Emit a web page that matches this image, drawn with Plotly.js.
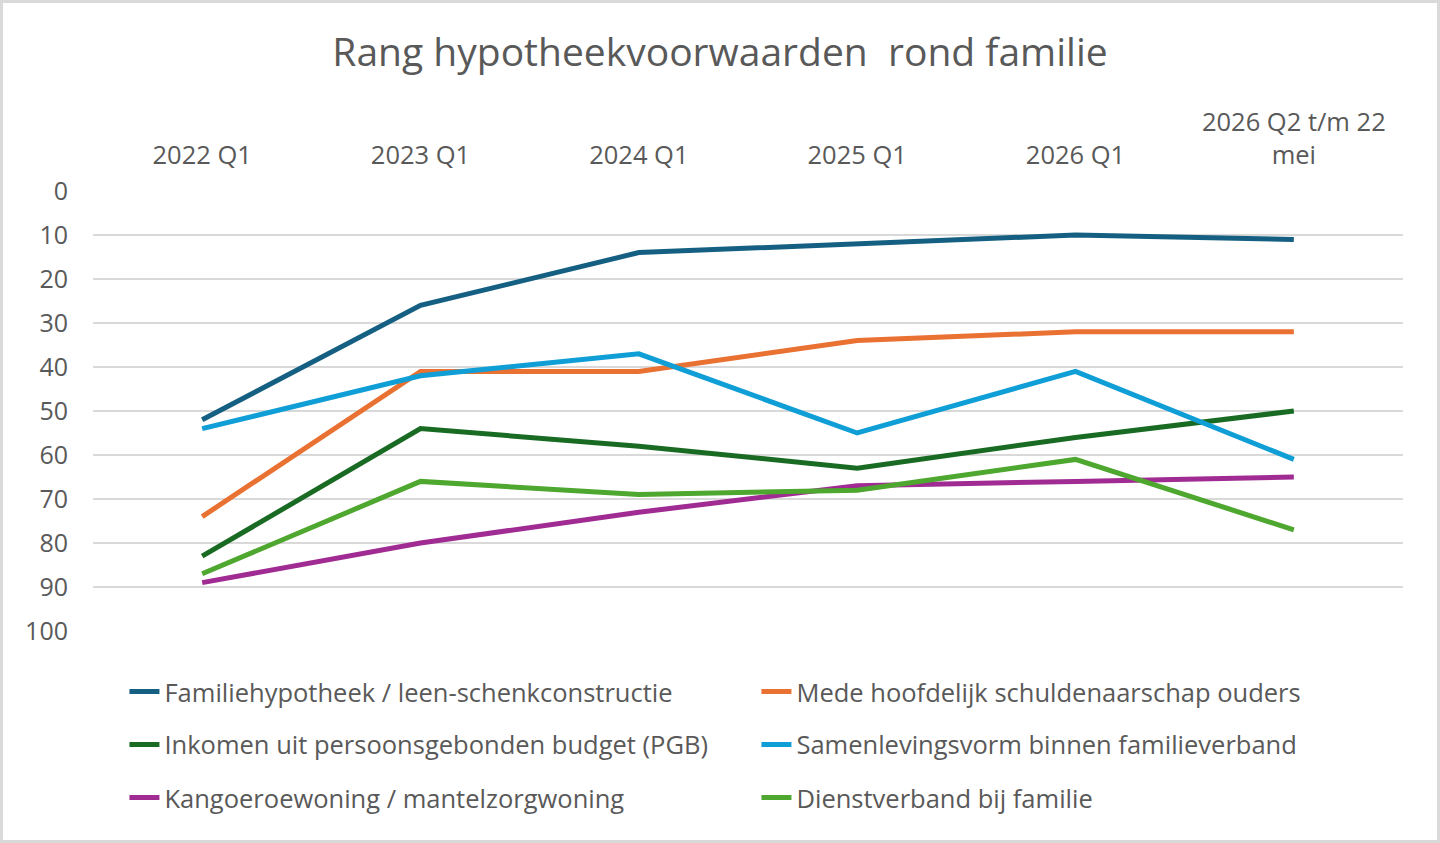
<!DOCTYPE html>
<html>
<head>
<meta charset="utf-8">
<script src="https://cdn.plot.ly/plotly-3.0.1.min.js"></script>
<style>
  html, body { margin: 0; padding: 0; background: #ffffff; }
  #wrap { position: relative; width: 1440px; height: 843px; }
  #chart { width: 1440px; height: 843px; }
  #frame { position: absolute; left: 0; top: 0; width: 1440px; height: 843px; box-sizing: border-box; border: 3px solid #d9d9d9; pointer-events: none; }
</style>
</head>
<body>
<div id="wrap"><div id="chart"></div><div id="frame"></div></div>
<script>
const categories = ["2022 Q1", "2023 Q1", "2024 Q1", "2025 Q1", "2026 Q1", "2026 Q2 t/m 22<br>mei"];

const familiehypotheek = [52, 26, 14, 12, 10, 11];
const medeHoofdelijk   = [74, 41, 41, 34, 32, 32];
const inkomenPGB       = [83, 54, 58, 63, 56, 50];
const samenlevingsvorm = [54, 42, 37, 55, 41, 61];
const kangoeroewoning  = [89, 80, 73, 67, 66, 65];
const dienstverband    = [87, 66, 69, 68, 61, 77];

const seriesNames = [
  "Familiehypotheek / leen-schenkconstructie",
  "Mede hoofdelijk schuldenaarschap ouders",
  "Inkomen uit persoonsgebonden budget (PGB)",
  "Samenlevingsvorm binnen familieverband",
  "Kangoeroewoning / mantelzorgwoning",
  "Dienstverband bij familie"
];
const seriesValues = [familiehypotheek, medeHoofdelijk, inkomenPGB, samenlevingsvorm, kangoeroewoning, dienstverband];
const seriesColors = ["#156082", "#e97132", "#196b24", "#0f9ed5", "#a02b93", "#4ea72e"];
const legendRows = ["legend", "legend", "legend2", "legend2", "legend3", "legend3"];

const FONT = "'Open Sans', 'Noto Sans', sans-serif";
const GREY = "#595959";

const traces = seriesValues.map((vals, i) => ({
  type: "scatter",
  mode: "lines",
  x: categories,
  y: vals,
  name: seriesNames[i],
  legend: legendRows[i],
  line: { color: seriesColors[i], width: 5 },
  hoverinfo: "skip"
}));

function legendAt(y) {
  return {
    orientation: "h",
    x: 0.024, xanchor: "left",
    y: y, yanchor: "middle",
    entrywidth: 587, entrywidthmode: "pixels",
    font: { family: FONT, size: 25.5, color: GREY },
    bgcolor: "rgba(0,0,0,0)",
    borderwidth: 0,
    itemclick: false, itemdoubleclick: false
  };
}

const layout = {
  width: 1440,
  height: 843,
  paper_bgcolor: "#ffffff",
  plot_bgcolor: "#ffffff",
  margin: { l: 93, r: 37, t: 191, b: 212 },
  title: {
    text: "Rang hypotheekvoorwaarden&nbsp; rond familie",
    font: { family: FONT, size: 39, color: GREY },
    x: 0.5, xanchor: "center",
    y: 0.938, yanchor: "middle"
  },
  xaxis: {
    type: "category",
    side: "top",
    range: [-0.5, 5.5],
    showgrid: false,
    showline: false,
    zeroline: false,
    ticks: "outside",
    ticklen: 16,
    tickcolor: "rgba(0,0,0,0)",
    tickfont: { family: FONT, size: 25.5, color: GREY }
  },
  yaxis: {
    range: [100, 0],
    dtick: 10,
    tick0: 0,
    showgrid: true,
    gridcolor: "#d9d9d9",
    gridwidth: 2,
    zeroline: false,
    showline: false,
    ticks: "outside",
    ticklen: 19,
    tickcolor: "rgba(0,0,0,0)",
    tickfont: { family: FONT, size: 25, color: GREY }
  },
  showlegend: true,
  legend: legendAt(-0.1386),
  legend2: legendAt(-0.259),
  legend3: legendAt(-0.3795)
};

Plotly.newPlot("chart", traces, layout, { displayModeBar: false, staticPlot: true });
</script>
</body>
</html>
